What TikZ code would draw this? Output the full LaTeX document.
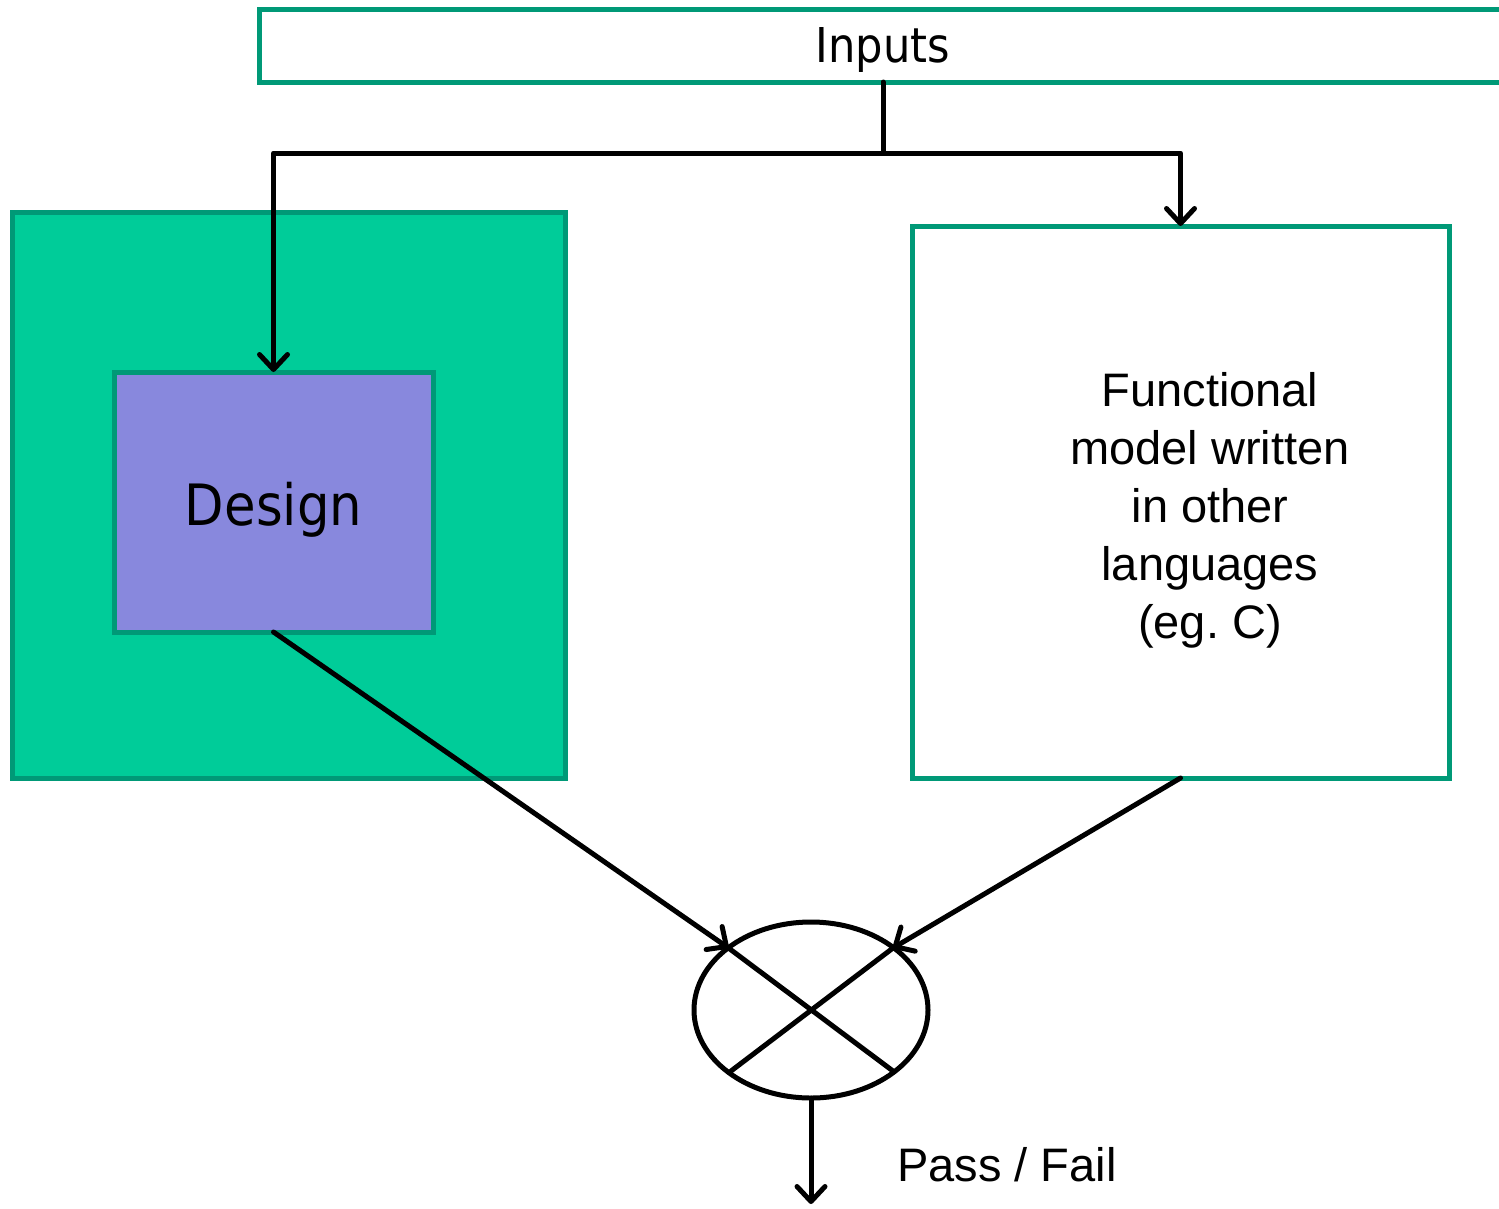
\documentclass[tikz,border=0pt]{standalone}
\usepackage{fontspec}
\setmainfont{Liberation Sans}
\newfontfamily\tahomalike{DejaVu Sans Condensed}
\usetikzlibrary{arrows.meta,shapes.geometric,calc}
\definecolor{bordergreen}{HTML}{009977}
\definecolor{fillgreen}{HTML}{00CC99}
\definecolor{designblue}{HTML}{8888DD}
\frenchspacing
\tikzset{
  gbox/.style={draw=bordergreen, line width=5pt, inner sep=0pt, outer sep=0pt},
  conn/.style={draw=black, line width=5pt, line cap=round, line join=round},
  arr/.style={conn, -{Straight Barb[length=15pt,width=28pt,line width=5pt,round]}},
}
\begin{document}
\begin{tikzpicture}[x=1pt,y=-1pt]
\useasboundingbox (0,0) rectangle (1499,1208);
% boxes
\node[gbox, fill=white, minimum width=1248pt, minimum height=73pt] (inputs) at (883,45.5) {};
\node[font=\tahomalike\fontsize{48}{56}\selectfont] (inputstxt) at (883,50) {Inputs};
\node[gbox, fill=fillgreen, minimum width=553pt, minimum height=566pt] (outer) at (288.5,495) {};
\node[gbox, fill=designblue, minimum width=319pt, minimum height=260pt] (design) at (273.5,502) {};
\node[font=\tahomalike\fontsize{57}{66}\selectfont] (designtxt) at (273.5,510) {Design};
\node[gbox, fill=white, minimum width=537pt, minimum height=552pt] (func) at (1180.5,502) {};
\node[align=center, font=\fontsize{47}{58}\selectfont] (functxt) at (1210,510) {Functional\\model written\\in other\\languages\\(eg. C)};
% comparator
\node[draw=black, line width=5pt, ellipse, minimum width=234pt, minimum height=176pt, inner sep=0pt, outer sep=0pt] (cmp) at (811,1010) {};
\coordinate (ul) at ($(cmp.center)+(-82.5,-62)$);
\coordinate (ur) at ($(cmp.center)+(82,-62)$);
\coordinate (ll) at ($(cmp.center)+(-80,61)$);
\coordinate (lr) at ($(cmp.center)+(82,61)$);
\draw[conn] (ul) -- (lr);
\draw[conn] (ur) -- (ll);
% connectors
\coordinate (split) at (883,153);
\draw[conn] (inputs.south) -- (split);
\draw[arr] (split) -| (design.north);
\draw[arr] (split) -| (func.north);
\draw[arr] (design.south) -- (ul);
\draw[arr] (func.south) -- (ur);
\coordinate (out) at (811,1204);
\draw[arr] (cmp.south) -- (out);
\node[font=\fontsize{47}{56}\selectfont] (pf) at (1007,1165) {Pass / Fail};
\end{tikzpicture}
\end{document}
